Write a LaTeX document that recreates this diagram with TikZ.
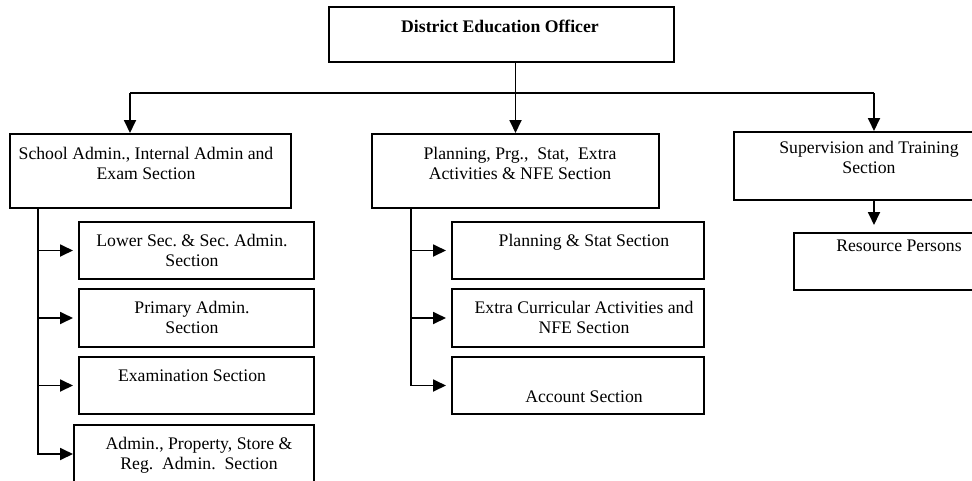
\documentclass[tikz,border=0pt]{standalone}
\usepackage{fontspec}
\setmainfont{Liberation Serif}
\usetikzlibrary{arrows.meta}

\begin{document}
\frenchspacing
\begin{tikzpicture}[x=1pt,y=-1pt,
        box/.style={draw,line width=2pt,anchor=north west,inner sep=0pt},
        txt/.style={anchor=base,align=center,inner sep=0pt,font=\fontsize{17.7}{19.5}\selectfont},
        link/.style={line width=1.8pt},
        arr/.style={line width=1.8pt,-{Triangle[length=13pt,width=12pt]}}]
        \clip (0,0) rectangle (972,480);
        % boxes
        \node[box,minimum width=345pt,minimum height=55pt] (deo) at (328,6) {};
        \node[box,minimum width=281pt,minimum height=74pt] (school) at (9,133) {};
        \node[box,minimum width=287pt,minimum height=74pt] (mid) at (371,133) {};
        \node[box,minimum width=272pt,minimum height=68pt] (super) at (733,131) {};
        \node[box,minimum width=212pt,minimum height=57pt] (resrc) at (793,232) {};
        \node[box,minimum width=235pt,minimum height=57pt] (lsec) at (78,221) {};
        \node[box,minimum width=235pt,minimum height=58pt] (prim) at (78,288) {};
        \node[box,minimum width=235pt,minimum height=57pt] (exam) at (78,356) {};
        \node[box,minimum width=240pt,minimum height=58pt] (aprop) at (73,424) {};
        \node[box,minimum width=252pt,minimum height=57pt] (plan) at (451,221) {};
        \node[box,minimum width=252pt,minimum height=58pt] (extra) at (451,288) {};
        \node[box,minimum width=252pt,minimum height=57pt] (acct) at (451,356) {};
        % texts (base = last line)
        \node[txt] (deot) at (500,32) {\bfseries District Education Officer};
        \node[txt] (schoolt) at (146,179) {School Admin., Internal Admin and\\Exam Section};
        \node[txt] (midt) at (520,179) {Planning, Prg.,~ Stat,~ Extra\\Activities \& NFE Section};
        \node[txt] (supert) at (869,173) {Supervision and Training\\Section};
        \node[txt] (resrct) at (899,251) {Resource Persons};
        \node[txt] (lsect) at (192,266) {Lower Sec. \& Sec. Admin.\\Section};
        \node[txt] (primt) at (192,333) {Primary Admin.\\Section};
        \node[txt] (examt) at (192,381) {Examination Section};
        \node[txt] (apropt) at (199,469) {Admin., Property, Store \&\\Reg.~ Admin.~ Section};
        \node[txt] (plant) at (584,246) {Planning \& Stat Section};
        \node[txt] (extrat) at (584,333) {Extra Curricular Activities and\\NFE Section};
        \node[txt] (acctt) at (584,402) {Account Section};
        % connectors
        \coordinate (busL) at (130,93);
        \coordinate (busR) at (874,93);
        \coordinate (ltrunk) at (38,207);
        \coordinate (mtrunk) at (411,207);
        \draw[link] (busL) -- (busR);
        \draw[arr] (deo.south -| mid.north) -- (mid.north);
        \draw[arr] (busL) -- (busL |- school.north);
        \draw[arr] (busR) -- (busR |- super.north);
        \draw[arr,shorten >=7pt] (super.south -| busR) -- (resrc.north -| busR);
        \foreach \b in {lsec,prim,exam}
            \draw[arr,shorten >=5pt] (ltrunk |- \b.west) -- (\b.west);
        \draw[arr] (ltrunk) -- (ltrunk |- aprop.west) -- (aprop.west);
        \foreach \b in {plan,extra}
            \draw[arr,shorten >=5pt] (mtrunk |- \b.west) -- (\b.west);
        \draw[arr,shorten >=5pt] (mtrunk) -- (mtrunk |- acct.west) -- (acct.west);
\end{tikzpicture}
\end{document}
